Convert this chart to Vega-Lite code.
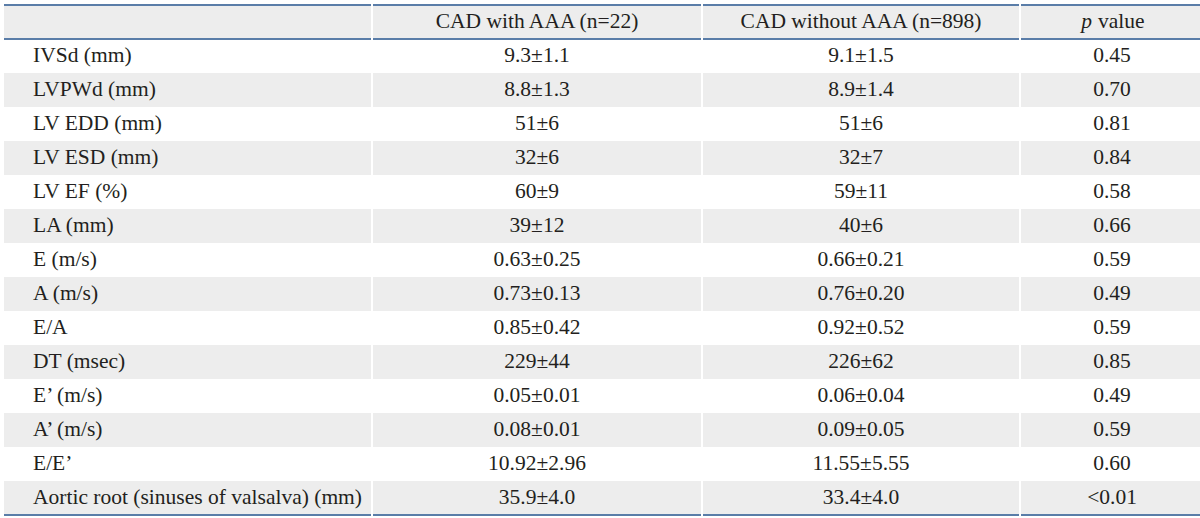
{
  "$schema": "https://vega.github.io/schema/vega-lite/v6.json",
  "padding": {"left": 3, "top": 4, "right": 0, "bottom": 0},
  "spacing": 0,
  "config": {"view": {"stroke": null}, "concat": {"spacing": 0}, "text": {"font": "Liberation Serif", "fontSize": 21.5, "color": "#231f20", "baseline": "middle"}},
  "data": {"values": [
    {"label": "", "with": "CAD with AAA (n=22)", "without": "CAD without AAA (n=898)", "p": ""},
    {"label": "IVSd (mm)", "with": "9.3±1.1", "without": "9.1±1.5", "p": "0.45"},
    {"label": "LVPWd (mm)", "with": "8.8±1.3", "without": "8.9±1.4", "p": "0.70"},
    {"label": "LV EDD (mm)", "with": "51±6", "without": "51±6", "p": "0.81"},
    {"label": "LV ESD (mm)", "with": "32±6", "without": "32±7", "p": "0.84"},
    {"label": "LV EF (%)", "with": "60±9", "without": "59±11", "p": "0.58"},
    {"label": "LA (mm)", "with": "39±12", "without": "40±6", "p": "0.66"},
    {"label": "E (m/s)", "with": "0.63±0.25", "without": "0.66±0.21", "p": "0.59"},
    {"label": "A (m/s)", "with": "0.73±0.13", "without": "0.76±0.20", "p": "0.49"},
    {"label": "E/A", "with": "0.85±0.42", "without": "0.92±0.52", "p": "0.59"},
    {"label": "DT (msec)", "with": "229±44", "without": "226±62", "p": "0.85"},
    {"label": "E’ (m/s)", "with": "0.05±0.01", "without": "0.06±0.04", "p": "0.49"},
    {"label": "A’ (m/s)", "with": "0.08±0.01", "without": "0.09±0.05", "p": "0.59"},
    {"label": "E/E’", "with": "10.92±2.96", "without": "11.55±5.55", "p": "0.60"},
    {"label": "Aortic root (sinuses of valsalva) (mm)", "with": "35.9±4.0", "without": "33.4±4.0", "p": "<0.01"}
  ]},
  "transform": [{"window": [{"op": "row_number", "as": "rn"}]}],
  "hconcat": [
    {
      "width": 367, "height": 510,
      "layer": [
        {"transform": [{"filter": "datum.rn % 2 == 1"}], "mark": {"type": "rect", "fill": "#ededed"},
         "encoding": {"y": {"field": "rn", "type": "ordinal", "axis": null, "scale": {"paddingInner": 0, "paddingOuter": 0}}}},
        {"transform": [{"filter": "datum.rn <= 2"}], "mark": {"type": "rule", "color": "#5a7da8", "strokeWidth": 2},
         "encoding": {"y": {"field": "rn", "type": "ordinal", "bandPosition": 0, "axis": null}}},
        {"transform": [{"filter": "datum.rn == 15"}], "mark": {"type": "rule", "color": "#5a7da8", "strokeWidth": 2},
         "encoding": {"y": {"field": "rn", "type": "ordinal", "bandPosition": 1, "axis": null}}},
        {"mark": {"type": "text", "align": "left", "dx": 29},
         "encoding": {
           "y": {"field": "rn", "type": "ordinal", "axis": null},
           "x": {"datum": "c", "type": "nominal", "axis": null, "scale": {"type": "point", "padding": 0, "align": 0}},
           "text": {"field": "label"}}}
      ]
    },
    {
      "width": 328, "height": 510,
      "layer": [
        {"transform": [{"filter": "datum.rn % 2 == 1"}], "mark": {"type": "rect", "fill": "#ededed"},
         "encoding": {"y": {"field": "rn", "type": "ordinal", "axis": null, "scale": {"paddingInner": 0, "paddingOuter": 0}}}},
        {"transform": [{"filter": "datum.rn <= 2"}], "mark": {"type": "rule", "color": "#5a7da8", "strokeWidth": 2},
         "encoding": {"y": {"field": "rn", "type": "ordinal", "bandPosition": 0, "axis": null}}},
        {"transform": [{"filter": "datum.rn == 15"}], "mark": {"type": "rule", "color": "#5a7da8", "strokeWidth": 2},
         "encoding": {"y": {"field": "rn", "type": "ordinal", "bandPosition": 1, "axis": null}}},
        {"mark": {"type": "text", "align": "center"},
         "encoding": {
           "y": {"field": "rn", "type": "ordinal", "axis": null},
           "x": {"datum": "c", "type": "nominal", "axis": null, "scale": {"paddingInner": 0, "paddingOuter": 0}},
           "text": {"field": "with"}}}
      ]
    },
    {
      "width": 316, "height": 510,
      "layer": [
        {"transform": [{"filter": "datum.rn % 2 == 1"}], "mark": {"type": "rect", "fill": "#ededed"},
         "encoding": {"y": {"field": "rn", "type": "ordinal", "axis": null, "scale": {"paddingInner": 0, "paddingOuter": 0}}}},
        {"transform": [{"filter": "datum.rn <= 2"}], "mark": {"type": "rule", "color": "#5a7da8", "strokeWidth": 2},
         "encoding": {"y": {"field": "rn", "type": "ordinal", "bandPosition": 0, "axis": null}}},
        {"transform": [{"filter": "datum.rn == 15"}], "mark": {"type": "rule", "color": "#5a7da8", "strokeWidth": 2},
         "encoding": {"y": {"field": "rn", "type": "ordinal", "bandPosition": 1, "axis": null}}},
        {"mark": {"type": "text", "align": "center"},
         "encoding": {
           "y": {"field": "rn", "type": "ordinal", "axis": null},
           "x": {"datum": "c", "type": "nominal", "axis": null, "scale": {"paddingInner": 0, "paddingOuter": 0}},
           "text": {"field": "without"}}}
      ]
    },
    {
      "width": 182, "height": 510,
      "layer": [
        {"transform": [{"filter": "datum.rn % 2 == 1"}], "mark": {"type": "rect", "fill": "#ededed"},
         "encoding": {"y": {"field": "rn", "type": "ordinal", "axis": null, "scale": {"paddingInner": 0, "paddingOuter": 0}}}},
        {"transform": [{"filter": "datum.rn <= 2"}], "mark": {"type": "rule", "color": "#5a7da8", "strokeWidth": 2},
         "encoding": {"y": {"field": "rn", "type": "ordinal", "bandPosition": 0, "axis": null}}},
        {"transform": [{"filter": "datum.rn == 15"}], "mark": {"type": "rule", "color": "#5a7da8", "strokeWidth": 2},
         "encoding": {"y": {"field": "rn", "type": "ordinal", "bandPosition": 1, "axis": null}}},
        {"mark": {"type": "text", "align": "center"},
         "encoding": {
           "y": {"field": "rn", "type": "ordinal", "axis": null},
           "x": {"datum": "c", "type": "nominal", "axis": null, "scale": {"paddingInner": 0, "paddingOuter": 0}},
           "text": {"field": "p"}}},
        {"transform": [{"filter": "datum.rn == 1"}], "mark": {"type": "text", "align": "right", "dx": -20, "fontStyle": "italic"},
         "encoding": {
           "y": {"field": "rn", "type": "ordinal", "axis": null},
           "x": {"datum": "c", "type": "nominal", "axis": null},
           "text": {"value": "p"}}},
        {"transform": [{"filter": "datum.rn == 1"}], "mark": {"type": "text", "align": "left", "dx": -14},
         "encoding": {
           "y": {"field": "rn", "type": "ordinal", "axis": null},
           "x": {"datum": "c", "type": "nominal", "axis": null},
           "text": {"value": "value"}}}
      ]
    }
  ]
}
